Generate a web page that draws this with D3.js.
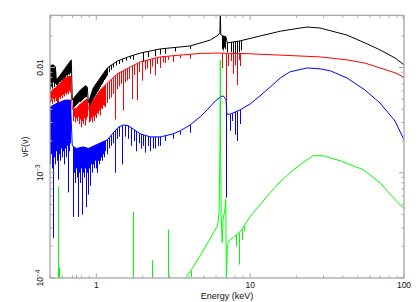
<!DOCTYPE html>
<html>
<head>
<meta charset="utf-8">
<script src="https://cdn.jsdelivr.net/npm/d3@7"></script>
<style>
  body { margin: 0; background: #fff; }
  svg { display: block; font-family: "Liberation Sans", Arial, sans-serif; }
</style>
</head>
<body>
<svg id="chart" width="419" height="302"></svg>
<script>
// values: [energy keV, nuF(nu)]
const blackCont = [[0.50,0.0104],[0.525,0.0106],[0.542,0.0101],[0.55,0.0076],[0.584,0.0085],[0.629,0.0099],[0.678,0.0115],[0.688,0.0118],
  [0.698,0.0049],[0.742,0.0055],[0.787,0.0061],[0.848,0.0067],[0.874,0.0065],[0.887,0.0046],[0.956,0.0064],[1.062,0.0080],[1.178,0.0099],
  [1.369,0.0115],[1.61,0.0126],[1.931,0.0137],[2.604,0.0150],[4.077,0.0160],[5.499,0.0182],[6.2,0.0203],[6.36,0.0215],[6.4,0.034],[6.44,0.0205],
  [6.6,0.0200],[6.95,0.0196],[7.1,0.0171],[8.61,0.0179],[11.6,0.0199],[15.7,0.0221],[21.1,0.0237],[23.5,0.0242],[28.5,0.0237],
  [42.6,0.0203],[55.8,0.0171],[69.8,0.0147],[87.4,0.0123],[100,0.0106]];
const blackLines = [[0.502,0.0062],[0.510,0.0066],[0.518,0.0063],[0.526,0.0072],[0.534,0.0065],[0.542,0.0070],[0.550,0.0068],
  [0.558,0.0067],[0.567,0.0070],[0.575,0.0072],[0.584,0.0073],[0.593,0.0075],[0.602,0.0074],[0.611,0.0078],[0.620,0.0079],
  [0.629,0.0081],[0.639,0.0084],[0.648,0.0082],[0.658,0.0086],[0.668,0.0085],[0.678,0.0088],
  [0.709,0.0041],[0.720,0.0042],[0.731,0.0043],[0.742,0.0044],[0.753,0.0045],[0.764,0.0046],[0.776,0.0047],[0.787,0.0047],
  [0.799,0.0048],[0.811,0.0049],[0.823,0.0050],[0.836,0.0051],[0.848,0.0052],[0.861,0.0052],
  [0.901,0.0042],[0.914,0.0044],[0.928,0.0046],[0.942,0.0048],[0.956,0.0050],[0.970,0.0052],[0.985,0.0054],[1.0,0.0056],
  [1.015,0.0058],[1.03,0.0060],[1.046,0.0063],[1.062,0.0065],[1.078,0.0068],[1.094,0.0070],[1.11,0.0073],[1.127,0.0076],
  [1.144,0.0078],[1.161,0.0081],[1.178,0.0084],[1.215,0.0090],[1.251,0.0095],[1.289,0.0100],[1.348,0.0104],[1.41,0.0108],
  [1.475,0.0112],[1.565,0.0116],[1.663,0.0121],[1.74,0.0118],[2.02,0.0113],[2.17,0.0125],[2.41,0.0128],[2.60,0.0133],
  [2.8,0.0135],[3.26,0.0142],[4.08,0.0150],[6.58,0.0150],[6.68,0.0145],[6.78,0.0155],[6.88,0.0150],[7.1,0.0140],[7.55,0.0140],
  [7.77,0.0130],[7.99,0.0135],[8.2,0.0130],[8.45,0.0140],[8.7,0.0145]];

const redCont = [[0.50,0.0059],[0.542,0.0064],[0.584,0.0071],[0.629,0.0080],[0.678,0.0083],[0.698,0.0040],[0.742,0.0041],[0.787,0.0045],
  [0.848,0.0049],[0.874,0.0050],[0.887,0.0040],[0.956,0.0049],[1.062,0.0061],[1.178,0.0071],[1.369,0.0087],[1.663,0.0101],[1.931,0.0113],
  [2.604,0.0126],[3.511,0.0131],[4.735,0.0136],[6.4,0.0137],[8.61,0.0136],[15.7,0.0131],[28.5,0.0126],[42.6,0.0118],[55.8,0.0110],
  [69.8,0.0099],[87.4,0.0089],[100,0.0081]];
const redLines = [[0.502,0.0046],[0.510,0.0048],[0.518,0.0045],[0.526,0.0050],[0.534,0.0047],[0.542,0.0051],[0.550,0.0048],
  [0.558,0.0045],[0.567,0.0040],[0.575,0.0052],[0.584,0.0050],[0.593,0.0054],[0.602,0.0051],[0.611,0.0055],[0.620,0.0053],
  [0.629,0.0057],[0.639,0.0055],[0.648,0.0058],[0.658,0.0056],[0.668,0.0060],[0.678,0.0058],
  [0.709,0.0031],[0.720,0.0034],[0.731,0.0030],[0.742,0.0033],[0.753,0.0031],[0.764,0.0034],[0.776,0.0029],[0.787,0.0032],
  [0.799,0.0027],[0.811,0.0031],[0.823,0.0029],[0.836,0.0033],[0.848,0.0028],[0.861,0.0032],[0.874,0.0034],
  [0.901,0.0030],[0.914,0.0031],[0.928,0.0033],[0.942,0.0030],[0.956,0.0034],[0.970,0.0031],[0.985,0.0035],[1.0,0.0033],
  [1.015,0.0037],[1.03,0.0036],[1.046,0.0039],[1.062,0.0035],[1.078,0.0041],[1.094,0.0040],[1.11,0.0044],[1.127,0.0043],
  [1.144,0.0042],[1.178,0.0046],[1.215,0.0050],[1.251,0.0052],[1.289,0.0056],[1.328,0.0032],[1.369,0.0062],[1.41,0.0066],
  [1.45,0.0070],[1.497,0.0039],[1.543,0.0072],[1.59,0.0075],[1.64,0.0078],[1.71,0.0050],[1.76,0.0085],[1.85,0.0049],
  [1.9,0.0090],[1.99,0.0075],[2.08,0.0095],[2.14,0.0098],[2.24,0.0087],[2.31,0.0102],[2.41,0.0084],[2.49,0.0108],
  [2.60,0.0099],[2.72,0.0112],[2.8,0.0110],[2.94,0.0118],[3.16,0.0113],[3.51,0.0122],[4.08,0.0121],
  [6.58,0.0099],[7.0,0.0012],[7.2,0.0103],[7.5,0.0115],[7.77,0.0087],[7.99,0.0105],[8.2,0.0068],[8.4,0.0118],[8.61,0.0103]];

const blueCont = [[0.50,0.0042],[0.542,0.0045],[0.584,0.0047],[0.629,0.0049],[0.678,0.0049],[0.698,0.0018],[0.742,0.0017],[0.823,0.00176],
  [0.887,0.0017],[1.062,0.00192],[1.178,0.00205],[1.289,0.00239],[1.39,0.0027],[1.497,0.00285],[1.614,0.00279],[1.739,0.0026],
  [1.931,0.00234],[2.242,0.00219],[2.604,0.00219],[3.162,0.00234],[3.511,0.0025],[4.077,0.00285],[4.735,0.0034],[5.258,0.00396],
  [5.925,0.0048],[6.4,0.00525],[6.678,0.00537],[6.88,0.0051],[6.98,0.0049],[7.05,0.0036],[7.41,0.0036],[8.61,0.00396],[10,0.0045],
  [11.6,0.00537],[13.5,0.00653],[15.7,0.00795],[18.2,0.0091],[23.5,0.0099],[28.5,0.0097],[33.1,0.0093],[42.6,0.00795],[55.8,0.0061],
  [69.8,0.0046],[87.4,0.0031],[100,0.00205]];
const blueLines = [[0.502,0.0012],[0.510,0.0015],[0.518,0.0011],[0.526,0.00024],[0.534,0.0014],[0.542,0.0012],[0.550,0.0016],
  [0.558,0.0013],[0.567,0.00086],[0.575,0.0015],[0.584,0.0013],[0.593,0.0017],[0.602,0.0014],[0.611,0.0016],[0.620,0.0012],
  [0.629,0.0017],[0.639,0.0014],[0.648,0.0018],[0.658,0.00065],[0.668,0.0016],[0.678,0.0019],
  [0.709,0.00038],[0.720,0.0010],[0.731,0.0008],[0.742,0.0011],[0.753,0.0009],[0.764,0.00038],[0.776,0.0010],[0.787,0.0008],
  [0.799,0.0011],[0.811,0.00040],[0.823,0.0010],[0.836,0.0009],[0.848,0.0011],[0.861,0.00047],[0.874,0.0010],[0.887,0.00062],
  [0.901,0.0011],[0.914,0.00075],[0.928,0.0012],[0.942,0.0010],[0.956,0.0012],[0.970,0.0011],[0.985,0.0013],[1.0,0.0011],
  [1.015,0.0010],[1.03,0.0013],[1.046,0.0012],[1.062,0.0013],[1.078,0.0014],[1.094,0.0013],[1.11,0.0015],[1.127,0.0014],
  [1.144,0.0016],[1.178,0.0015],[1.215,0.0017],[1.251,0.0018],[1.289,0.0019],[1.328,0.0010],[1.369,0.0021],[1.41,0.0022],
  [1.475,0.0012],[1.543,0.0022],[1.614,0.0021],[1.69,0.0018],[1.76,0.0020],[1.82,0.0016],[1.9,0.0019],[1.96,0.0017],
  [2.02,0.0018],[2.08,0.00155],[2.17,0.0018],[2.24,0.0016],[2.35,0.0017],[2.41,0.0017],[2.53,0.0018],[2.60,0.0018],
  [2.8,0.0020],[3.16,0.0021],[3.51,0.0023],[4.08,0.0024],
  [7.0,0.00058],[7.41,0.0025],[7.6,0.0031],[7.99,0.0023],[8.2,0.0020],[8.61,0.0029]];

const greenCont = [[3.78,0.0001],[4.08,0.000115],[4.735,0.000163],[6.107,0.00031],[6.2,0.000343],[6.29,0.000446],[6.36,0.00165],
  [6.4,0.0118],[6.43,0.00165],[6.48,0.0004],[6.58,0.000217],[6.68,0.00037],[6.78,0.00041],[6.88,0.000466],[6.94,0.00056],[7.0,0.0001],
  [7.1,0.000186],[7.2,0.000222],[8.61,0.000276],[10,0.000383],[11.6,0.000497],[13.5,0.000646],[15.7,0.000822],[18.2,0.001],
  [21.1,0.00119],[25.6,0.00145],[29.8,0.00145],[38.4,0.0013],[54.2,0.00107],[69.8,0.000804],[87.4,0.000555],[100,0.000456]];
const greenAbs = [[4.1,0.000102],[8.1,0.00020],[8.4,0.000134],[8.8,0.00023],[9.1,0.00028]];
const greenEmis = [[0.567,0.00074],[0.574,0.000125],[0.742,0.000106],[1.739,0.000427],[2.31,0.000147],[2.935,0.000288]];

const xMajor = [1, 10, 100];
const yMajor = [1e-4, 1e-3, 1e-2];

const svg = d3.select('#chart');
const pLeft = 50, pRight = 404, pTop = 15.3, pBottom = 278;

const x = d3.scaleLog().domain([0.5, 100]).range([pLeft, pRight]);
const y = d3.scaleLog().domain([1e-4, 0.0313]).range([pBottom, pTop]);

svg.append('clipPath').attr('id', 'clip')
  .append('rect').attr('x', pLeft).attr('y', pTop).attr('width', pRight - pLeft).attr('height', pBottom - pTop);

const plot = svg.append('g').attr('clip-path', 'url(#clip)');

// continuum value at e, log-log between the read points (used to place line tops)
function contAt(cont, e){
  let i = d3.bisector(d => d[0]).right(cont, e) - 1;
  i = Math.max(0, Math.min(cont.length - 2, i));
  let a = cont[i], b = cont[i + 1];
  let t = (Math.log(e) - Math.log(a[0])) / (Math.log(b[0]) - Math.log(a[0]));
  return Math.exp(Math.log(a[1]) + t * (Math.log(b[1]) - Math.log(a[1])));
}

const line = d3.line().x(d => x(d[0])).y(d => y(d[1]));

function drawSeries(cont, lines, color){
  plot.append('path').attr('d', line(cont)).attr('fill', 'none').attr('stroke', color).attr('stroke-width', 1);
  let d = lines.map(l => {
    let px = Math.round(x(l[0])) + 0.5;
    return `M${px},${y(contAt(cont, l[0]))}V${y(l[1])}`;
  }).join('');
  plot.append('path').attr('d', d).attr('fill', 'none').attr('stroke', color).attr('stroke-width', 1);
}

drawSeries(blackCont, blackLines, '#000');
drawSeries(redCont, redLines, '#ff0000');
drawSeries(blueCont, blueLines, '#0000ff');
drawSeries(greenCont, greenAbs, '#00ff00');
plot.append('path')
  .attr('d', greenEmis.map(l => `M${Math.round(x(l[0])) + 0.5},${pBottom}V${y(l[1])}`).join(''))
  .attr('fill', 'none').attr('stroke', '#00ff00').attr('stroke-width', 1);

// frame and ticks
const axisColor = '#a8a8a8';
const axes = svg.append('g').attr('stroke', axisColor).attr('fill', 'none');
axes.append('rect').attr('x', pLeft).attr('y', pTop).attr('width', pRight - pLeft).attr('height', pBottom - pTop).attr('stroke-width', 1.3);

x.ticks().forEach(t => {
  let major = xMajor.includes(t);
  let len = major ? 5 : 2.5;
  let px = x(t);
  axes.append('line').attr('x1', px).attr('x2', px).attr('y1', pBottom).attr('y2', pBottom - len);
  axes.append('line').attr('x1', px).attr('x2', px).attr('y1', pTop).attr('y2', pTop + len);
});
y.ticks().forEach(t => {
  let major = yMajor.some(m => Math.abs(m - t) / m < 1e-6);
  let len = major ? 5 : 2.5;
  let py = y(t);
  axes.append('line').attr('x1', pLeft).attr('x2', pLeft + len).attr('y1', py).attr('y2', py);
  axes.append('line').attr('x1', pRight).attr('x2', pRight - len).attr('y1', py).attr('y2', py);
});

const labels = svg.append('g').attr('fill', '#111').attr('font-size', 9);
xMajor.forEach(t => {
  labels.append('text').attr('x', x(t)).attr('y', 288).attr('text-anchor', 'middle').attr('font-size', 8.5).text(t);
});
labels.append('text').attr('x', (pLeft + pRight) / 2).attr('y', 298.5).attr('text-anchor', 'middle').text('Energy (keV)');

const yLab = [['0.01', null], ['10', '\u22123'], ['10', '\u22124']];
yMajor.slice().reverse().forEach((t, i) => {
  let txt = labels.append('text')
    .attr('transform', `translate(43,${y(t)}) rotate(-90)`)
    .attr('text-anchor', 'middle').attr('font-size', 8.5);
  txt.append('tspan').text(yLab[i][0]);
  if(yLab[i][1]){
    txt.append('tspan').attr('dy', -3).attr('font-size', 6.5).text(yLab[i][1]);
  }
});
labels.append('text').attr('transform', `translate(28,${(pTop + pBottom) / 2}) rotate(-90)`)
  .attr('text-anchor', 'middle').text('\u03bdF(\u03bd)');
</script>
</body>
</html>
